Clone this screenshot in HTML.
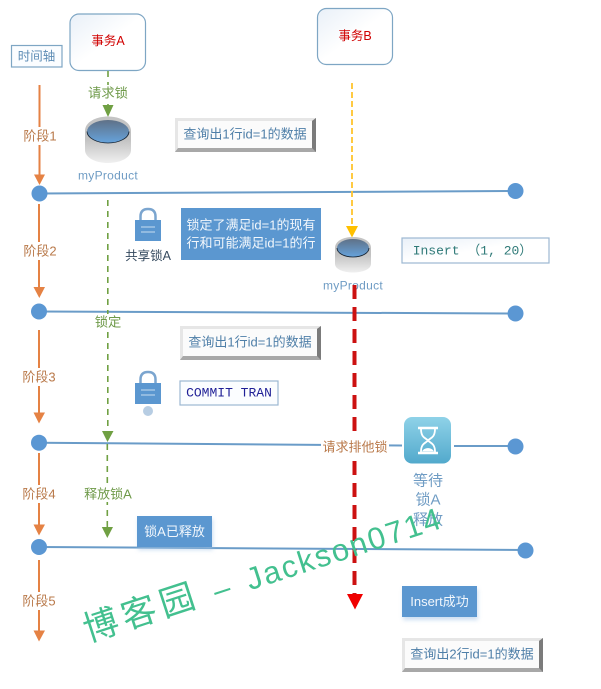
<!DOCTYPE html>
<html>
<head>
<meta charset="utf-8">
<style>
html,body{margin:0;padding:0;background:#fff;width:601px;height:689px;overflow:hidden}
svg{display:block}
text{font-family:"Liberation Sans","Noto Sans CJK SC",sans-serif;text-anchor:middle;dominant-baseline:central}
.st{font-size:13px;fill:#b9794a}
.gl{font-size:13.3px;fill:#6f9a4a}
.db{font-size:12px;fill:#6f9cc4;letter-spacing:.3px}
.q{font-size:13px;fill:#4f7fa8}
.w{font-size:13px;fill:#f2f7fc}
.m{font-family:"Liberation Mono","Noto Sans CJK SC",monospace;font-size:13px}
.tl{stroke:#6a9cc8;stroke-width:2;fill:none}
.or{stroke:#e58244;stroke-width:2;fill:none}
.gr{stroke:#70a043;stroke-width:1.6;stroke-dasharray:6 5;fill:none}
.wm{fill:#43c08f;text-anchor:start;dominant-baseline:alphabetic}
</style>
</head>
<body>
<svg width="601" height="689" viewBox="0 0 601 689" xmlns="http://www.w3.org/2000/svg">
<defs>
<linearGradient id="box" x1="0" y1="0" x2="1" y2="1"><stop offset="0" stop-color="#e9f0f8"/><stop offset=".5" stop-color="#fff"/><stop offset="1" stop-color="#fff"/></linearGradient>
<linearGradient id="cyl" x1="0" y1="0" x2="0" y2="1"><stop offset="0" stop-color="#c4c4c4"/><stop offset=".5" stop-color="#c2c2c2"/><stop offset="1" stop-color="#f0f0f0"/></linearGradient>
<linearGradient id="top" x1="0" y1="0" x2="0" y2="1"><stop offset="0" stop-color="#5f7187"/><stop offset="1" stop-color="#66a3dc"/></linearGradient>
<linearGradient id="hg" x1="0" y1="0" x2="0" y2="1"><stop offset="0" stop-color="#8fd2e8"/><stop offset="1" stop-color="#52a9cc"/></linearGradient>
<filter id="sh" x="-15%" y="-15%" width="130%" height="140%"><feGaussianBlur stdDeviation="2"/></filter>
<g id="bevel">
<rect x="0" y="0" width="141" height="34" fill="#d9d9d9"/>
<path d="M0 0H141L138 3H3V31L0 34Z" fill="#e6e6e6"/>
<path d="M0 34L3 30H137V3L141 0V34Z" fill="#a8a8a8"/>
<path d="M141 0V34L137 30V3Z" fill="#7b7b7b"/>
<rect x="3" y="3" width="134" height="27" fill="#fbfbfb"/>
</g>
<g id="lock">
<path d="M5.500 13V8.500C5.500 3 8.500 1 13 1S20.500 3 20.500 8.500V13" fill="none" stroke="#7ba5cf" stroke-width="2.500"/>
<rect x="0" y="12" width="26" height="21" fill="#5b97d0"/>
<path d="M6 19H20M6 24H20" stroke="#c7dcf0" stroke-width="1"/>
</g>
</defs>

<!-- timeline lines -->
<path class="tl" d="M39.500 193.500 L515 191"/>
<path class="tl" d="M39 311.500 L515.500 313.500"/>
<path class="tl" d="M39 442.700 L402 445.500"/>
<path class="tl" d="M454 446 L515.500 446"/>
<path class="tl" d="M39 547 L525.500 550"/>
<g fill="#5b97d3">
<circle cx="39.500" cy="193.500" r="8"/><circle cx="515.500" cy="191" r="8"/>
<circle cx="39" cy="311.500" r="8"/><circle cx="515.500" cy="313.500" r="8"/>
<circle cx="39" cy="442.700" r="8"/><circle cx="515.500" cy="446.500" r="8"/>
<circle cx="39" cy="547" r="8"/><circle cx="525.500" cy="550.500" r="8"/>
</g>

<!-- orange arrows -->
<path class="or" d="M39.500 85V176M39 204V289M39 330V415M39 453V527M39 560V633"/>
<g fill="#e58244">
<path d="M34 174.500H45L39.500 185Z"/>
<path d="M33.500 287H45L39.300 298Z"/>
<path d="M33.500 412.500H45L39 423.500Z"/>
<path d="M33.500 524.500H45L39 535.500Z"/>
<path d="M33.500 630.500H45L39 641.500Z"/>
</g>
<g>
<rect x="22" y="127" width="36" height="18" fill="#fff"/><text class="st" x="40" y="136">阶段1</text>
<rect x="22" y="242" width="36" height="18" fill="#fff"/><text class="st" x="40" y="251">阶段2</text>
<rect x="21" y="368" width="36" height="18" fill="#fff"/><text class="st" x="39" y="377">阶段3</text>
<rect x="21" y="485" width="36" height="18" fill="#fff"/><text class="st" x="39" y="494">阶段4</text>
<rect x="21" y="592" width="36" height="18" fill="#fff"/><text class="st" x="39" y="601">阶段5</text>
</g>

<!-- transaction boxes -->
<rect x="70" y="14" width="75.500" height="56.500" rx="9" fill="url(#box)" stroke="#7ea6c4" stroke-width="1.200"/>
<text x="108" y="41" font-size="12.500" fill="#d00000">事务A</text>
<rect x="317.500" y="8.500" width="75" height="56" rx="9" fill="url(#box)" stroke="#7ea6c4" stroke-width="1.200"/>
<text x="355" y="36" font-size="12.500" fill="#d00000">事务B</text>
<rect x="11.500" y="45.500" width="50.500" height="21.500" fill="#fbfdff" stroke="#7ea6c4" stroke-width="1.200"/>
<text x="36.500" y="56.500" font-size="12.500" fill="#5d8cb5">时间轴</text>

<!-- green dashed -->
<path class="gr" d="M108 71V108"/>
<path d="M102.500 105H113.500L108 117Z" fill="#70a043"/>
<rect x="87" y="85" width="42" height="16" fill="#fff"/>
<text class="gl" x="108" y="93">请求锁</text>
<path class="gr" d="M107.800 200V433"/>
<path d="M102 431H113.500L107.500 442Z" fill="#70a043"/>
<path class="gr" d="M107.300 444V530"/>
<path d="M101.800 527H113L107.300 538Z" fill="#70a043"/>
<rect x="92" y="314" width="32" height="16" fill="#fff"/>
<text class="gl" x="108" y="322">锁定</text>
<rect x="83" y="486" width="50" height="16" fill="#fff"/>
<text class="gl" x="108" y="494" style="font-size:13px">释放锁A</text>

<!-- DB A -->
<path d="M85 131C85 122 96 116.500 108 116.500S131 122 131 131V150C131 158 120 163 108 163S85 158 85 150Z" fill="url(#cyl)"/>
<ellipse cx="108" cy="131.500" rx="21" ry="11.500" fill="url(#top)"/>
<path d="M87 131.500C87 138 97 143 108 143S129 138 129 131.500" fill="none" stroke="#14202e" stroke-width="0.800"/>
<text class="db" x="108" y="175.500">myProduct</text>

<use href="#bevel" x="175" y="118"/>
<text class="q" x="245" y="134">查询出1行id=1的数据</text>

<!-- lock A -->
<use href="#lock" x="135" y="208"/>
<text x="148" y="256" font-size="12.500" fill="#34495e">共享锁A</text>
<rect x="181" y="208" width="140" height="52" fill="#5b97d0"/>
<text class="w" x="251" y="225">锁定了满足id=1的现有</text>
<text class="w" x="251" y="243">行和可能满足id=1的行</text>

<!-- yellow -->
<path d="M352 83V228" stroke="#ffc52e" stroke-width="1.800" stroke-dasharray="6 3" fill="none"/>
<path d="M346 226H358L352 237.500Z" fill="#ffc000"/>

<!-- DB B -->
<path d="M335 248C335 241 343 237 353 237S371 241 371 248V264C371 269 363 272.500 353 272.500S335 269 335 264Z" fill="url(#cyl)"/>
<ellipse cx="353" cy="248" rx="16" ry="9" fill="url(#top)"/>
<path d="M337 248C337 253 344 257 353 257S369 253 369 248" fill="none" stroke="#14202e" stroke-width="0.800"/>
<text class="db" x="353" y="285.500">myProduct</text>

<!-- Insert box -->
<rect x="402" y="238" width="147" height="25" fill="url(#box)" stroke="#9cb8d2" stroke-width="1.200"/>
<text class="m" x="472.500" y="251" fill="#2f7a78">Insert （1, 20）</text>

<!-- query 2 -->
<use href="#bevel" x="180" y="326"/>
<text class="q" x="250" y="342">查询出1行id=1的数据</text>

<!-- lock 2 -->
<use href="#lock" x="135" y="371"/>
<circle cx="148" cy="411" r="5" fill="#b7cde3"/>
<rect x="180" y="381" width="98" height="24" fill="#fbfdff" stroke="#9cb8d2" stroke-width="1.200"/>
<text class="m" x="229" y="393" fill="#1f1f96">COMMIT TRAN</text>

<!-- red dashed -->
<path d="M354.500 285V596" stroke="#cc1111" stroke-width="4" stroke-dasharray="14 8" fill="none"/>
<path d="M347 594H363L355 609.500Z" fill="#f00000"/>
<rect x="321" y="439" width="68" height="16" fill="#fff"/>
<text x="355" y="447" font-size="13" fill="#b9794a">请求排他锁</text>

<!-- hourglass -->
<rect x="404" y="417" width="47" height="46.500" rx="8" fill="url(#hg)"/>
<path d="M418 428H438M418 453H438" stroke="#fff" stroke-width="2.500"/>
<path d="M421 429C421 438 426 438 428 440.500C430 438 435 438 435 429M421 452C421 443 426 443 428 440.500C430 443 435 443 435 452" fill="none" stroke="#fff" stroke-width="1.800"/>
<path d="M422 451.500C424 447 432 447 434 451.500Z" fill="#fff"/>
<g font-size="15" fill="#6f9cc4">
<text x="428" y="481">等待</text>
<text x="428" y="500">锁A</text>
<text x="428" y="520">释放</text>
</g>

<!-- blue boxes -->
<rect x="138" y="519" width="75" height="31" fill="#9cc0e4" opacity=".5" filter="url(#sh)"/>
<rect x="137" y="516" width="75" height="31" fill="#5b97d0"/>
<text class="w" x="174.500" y="531.500">锁A已释放</text>
<rect x="403" y="589" width="75" height="31" fill="#9cc0e4" opacity=".5" filter="url(#sh)"/>
<rect x="402" y="586" width="75" height="31" fill="#5b97d0"/>
<text class="w" x="439.500" y="601.500" font-size="12.500">Insert成功</text>
<use href="#bevel" x="402" y="638"/>
<text class="q" x="472" y="654">查询出2行id=1的数据</text>

<!-- watermark -->
<g transform="translate(88 642) rotate(-18)">
<text class="wm" x="0" y="0" font-size="35" letter-spacing="5">博客园</text>
<text class="wm" x="135" y="1" font-size="30" style="font-family:'Liberation Sans',sans-serif">–</text>
<text class="wm" x="170" y="1" font-size="31" letter-spacing="2" style="font-family:'Liberation Sans',sans-serif">Jackson0714</text>
</g>
</svg>
</body>
</html>
